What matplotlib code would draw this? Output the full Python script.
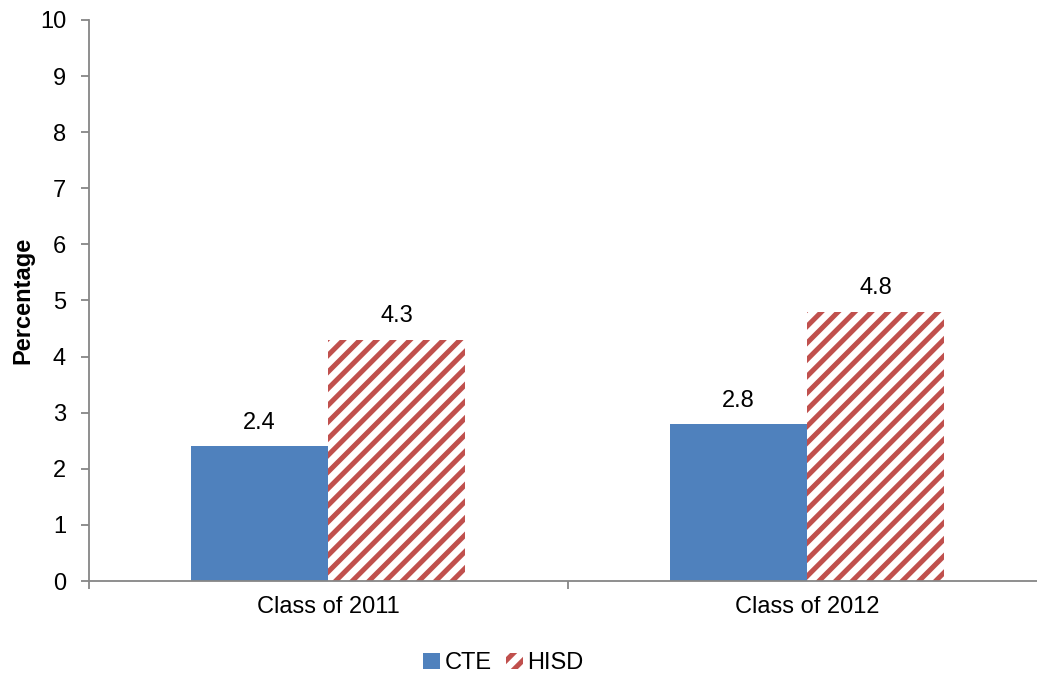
import matplotlib
matplotlib.use("Agg")
import matplotlib.pyplot as plt
import numpy as np

categories = ["Class of 2011", "Class of 2012"]
cte_values = [2.4, 2.8]
hisd_values = [4.3, 4.8]
series_names = ["CTE", "HISD"]
y_ticks = list(range(0, 11))

plt.rcParams["font.family"] = ["Liberation Sans", "DejaVu Sans"]
plt.rcParams["hatch.linewidth"] = 3.6

fig = plt.figure(figsize=(10.37, 6.77), dpi=100)
ax = fig.add_axes([0.0858, 0.1418, 0.923, 0.8287])

x = np.arange(len(categories))
bw = 0.2866
cte_color = "#4F81BD"
hisd_color = "#C0504D"
axis_color = "#868686"
fs = 17

b1 = ax.bar(x - bw / 2, cte_values, width=bw, color=cte_color, linewidth=0,
            label=series_names[0])
b2 = ax.bar(x + bw / 2, hisd_values, width=bw, facecolor="white",
            edgecolor=hisd_color, hatch="//", linewidth=0, label=series_names[1])

for bars, vals in ((b1, cte_values), (b2, hisd_values)):
    for rect, v in zip(bars, vals):
        ax.annotate(f"{v:.1f}", (rect.get_x() + rect.get_width() / 2, v),
                    xytext=(0, 12.5), textcoords="offset points",
                    ha="center", va="baseline", fontsize=fs)

ax.set_xlim(-0.5, len(categories) - 0.5)
ax.set_ylim(0, 10)
ax.set_yticks(y_ticks)
ax.set_xticks(x)
ax.set_xticklabels(categories, fontsize=fs)
ax.set_xticks(np.arange(-0.5, len(categories)), minor=True)
ax.tick_params(axis="x", which="major", length=0, pad=11)
ax.tick_params(axis="x", which="minor", length=6, color=axis_color, width=1.3)
ax.tick_params(axis="y", length=6, color=axis_color, width=1.3, labelsize=fs, pad=10.5)

for s in ("top", "right"):
    ax.spines[s].set_visible(False)
for s in ("left", "bottom"):
    ax.spines[s].set_color(axis_color)
    ax.spines[s].set_linewidth(1.3)

ax.set_ylabel("Percentage", fontsize=fs, fontweight="bold")
ax.yaxis.set_label_coords(-0.0575, 0.5)

fig.legend(handles=[b1, b2], labels=series_names, loc="center",
           bbox_to_anchor=(0.4855, 0.02), ncol=2, frameon=False, fontsize=fs,
           handlelength=0.7, handleheight=0.7, handletextpad=0.2,
           columnspacing=0.6)

fig.savefig("out.png", dpi=100)
